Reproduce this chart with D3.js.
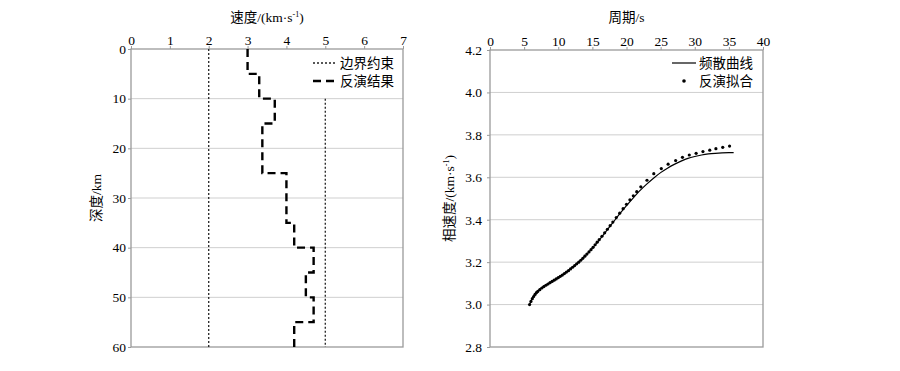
<!DOCTYPE html>
<html>
<head>
<meta charset="utf-8">
<script src="https://cdn.jsdelivr.net/npm/d3@7"></script>
<style>
  body { margin: 0; background: #fff; }
</style>
</head>
<body>
<div id="chart"></div>
<script>
// left panel: velocity model
const layerTops = [0, 5, 10, 15, 25, 35, 40, 45, 50, 55];
const layerVel = [3.0, 3.3, 3.7, 3.38, 4.0, 4.2, 4.7, 4.5, 4.7, 4.2];
const modelBottom = 60;
const lowerBound = [[2, 0], [2, 60]];
const upperBound = [[5, 10], [5, 60]];
const velTicks = [0, 1, 2, 3, 4, 5, 6, 7];
const depthTicks = [0, 10, 20, 30, 40, 50, 60];

// right panel: dispersion
const curvePeriod = [5.8, 6.2, 6.6, 7, 8, 9, 10, 11, 12, 13, 14, 15, 16, 17, 18, 19, 20, 21, 22, 23, 24, 25, 26, 27, 28, 29, 30, 31, 32, 33, 34, 35, 35.7];
const curveVel = [3.0, 3.03, 3.05, 3.064, 3.09, 3.108, 3.127, 3.149, 3.173, 3.2, 3.231, 3.266, 3.304, 3.345, 3.386, 3.427, 3.466, 3.503, 3.538, 3.569, 3.597, 3.622, 3.643, 3.661, 3.676, 3.689, 3.698, 3.705, 3.71, 3.713, 3.715, 3.716, 3.716];
const fitPeriod = [5.8, 6.0, 6.2, 6.4, 6.6, 6.8, 7.0, 7.3, 7.6, 7.9, 8.2, 8.5, 8.8, 9.1, 9.4, 9.7, 10.0, 10.3, 10.6, 10.9, 11.2, 11.5, 11.8, 12.1, 12.4, 12.7, 13.0, 13.3, 13.6, 13.9, 14.2, 14.5, 14.8, 15.1, 15.4, 15.7, 16.0, 16.4, 16.8, 17.2, 17.6, 18.0, 18.5, 19.0, 19.5, 20.0, 20.5, 21.0, 21.5, 22.1, 23.0, 24.0, 25.1, 26.1, 27.2, 28.2, 29.2, 30.2, 31.2, 32.2, 33.1, 34.1, 35.1];
const fitVel = [3.0, 3.015, 3.028, 3.038, 3.048, 3.056, 3.062, 3.07, 3.078, 3.085, 3.091, 3.097, 3.103, 3.109, 3.115, 3.121, 3.127, 3.133, 3.139, 3.146, 3.153, 3.16, 3.168, 3.176, 3.184, 3.192, 3.2, 3.209, 3.218, 3.228, 3.238, 3.248, 3.259, 3.27, 3.282, 3.294, 3.306, 3.322, 3.338, 3.355, 3.372, 3.389, 3.41, 3.431, 3.452, 3.473, 3.494, 3.513, 3.532, 3.555, 3.586, 3.617, 3.641, 3.662, 3.679, 3.694, 3.705, 3.713, 3.721, 3.728, 3.735, 3.741, 3.747];
const periodTicks = [0, 5, 10, 15, 20, 25, 30, 35, 40];
const phaseTicks = [2.8, 3.0, 3.2, 3.4, 3.6, 3.8, 4.0, 4.2];

const FONT = '"Liberation Serif", "Times New Roman", "Noto Sans CJK SC", serif';

const svg = d3.select('#chart').append('svg').attr('width', 900).attr('height', 371)
  .attr('font-family', FONT).attr('font-size', 13.5);

const frameColor = '#9a9a9a';
const gridColor = '#cfcfcf';

const addUnitTitle = (sel, prefix) => {
  sel.append('tspan').text(prefix + '/(km·s');
  sel.append('tspan').attr('font-size', 8).attr('dy', -5).text('-1');
  sel.append('tspan').attr('dy', 5).text(')');
};

const styleAxis = (g) => {
  g.attr('font-family', FONT).attr('font-size', 13.5);
  g.select('.domain').remove();
  g.selectAll('.tick line').attr('stroke', frameColor);
  g.selectAll('.tick text').attr('fill', '#000');
};

// ---------- left panel ----------
const x1 = d3.scaleLinear().domain([0, 7]).range([131, 403]);
const y1 = d3.scaleLinear().domain([0, 60]).range([49, 347]);

svg.append('g')
  .selectAll('line')
  .data(depthTicks.slice(1, -1))
  .enter()
  .append('line')
  .attr('x1', x1(0)).attr('x2', x1(7))
  .attr('y1', (d) => y1(d)).attr('y2', (d) => y1(d))
  .attr('stroke', gridColor).attr('stroke-width', 1);

svg.append('rect')
  .attr('x', x1(0)).attr('y', y1(0))
  .attr('width', x1(7) - x1(0)).attr('height', y1(60) - y1(0))
  .attr('fill', 'none').attr('stroke', frameColor).attr('stroke-width', 1.3);

svg.append('g')
  .attr('transform', `translate(0,${y1(0)})`)
  .call(d3.axisTop(x1).tickValues(velTicks).tickSize(3).tickPadding(1).tickFormat(d3.format('d')))
  .call(styleAxis);

svg.append('g')
  .attr('transform', `translate(${x1(0)},0)`)
  .call(d3.axisLeft(y1).tickValues(depthTicks).tickSize(3).tickPadding(2).tickFormat(d3.format('d')))
  .call(styleAxis);

const bLine = d3.line().x((d) => x1(d[0])).y((d) => y1(d[1]));
[lowerBound, upperBound].forEach((b) => {
  svg.append('path')
    .attr('d', bLine(b))
    .attr('fill', 'none').attr('stroke', '#222').attr('stroke-width', 1.3)
    .attr('stroke-dasharray', '2,2');
});

const model = layerTops.map((t, i) => [layerVel[i], t]);
model.push([layerVel[layerVel.length - 1], modelBottom]);

svg.append('path')
  .datum(model)
  .attr('fill', 'none').attr('stroke', '#000').attr('stroke-width', 2.4)
  .attr('stroke-dasharray', '8,5')
  .attr('d', d3.line().x((d) => x1(d[0])).y((d) => y1(d[1])).curve(d3.curveStepBefore));

svg.append('text')
  .attr('x', (x1(0) + x1(7)) / 2).attr('y', 22)
  .style('text-anchor', 'middle')
  .call(addUnitTitle, '速度');

svg.append('text')
  .attr('transform', `translate(101,${(y1(0) + y1(60)) / 2}) rotate(-90)`)
  .style('text-anchor', 'middle')
  .text('深度/km');

const legL = svg.append('g');
legL.append('line').attr('x1', 313).attr('x2', 335).attr('y1', 63).attr('y2', 63)
  .attr('stroke', '#222').attr('stroke-width', 1.3).attr('stroke-dasharray', '2,2');
legL.append('text').attr('x', 340).attr('y', 67.5).text('边界约束');
legL.append('line').attr('x1', 313).attr('x2', 335).attr('y1', 81).attr('y2', 81)
  .attr('stroke', '#000').attr('stroke-width', 2.4).attr('stroke-dasharray', '8,5');
legL.append('text').attr('x', 340).attr('y', 85.5).text('反演结果');

// ---------- right panel ----------
const x2 = d3.scaleLinear().domain([0, 40]).range([490, 763]);
const y2 = d3.scaleLinear().domain([2.8, 4.2]).range([347, 50]);

svg.append('g')
  .selectAll('line')
  .data(phaseTicks.slice(1, -1))
  .enter()
  .append('line')
  .attr('x1', x2(0)).attr('x2', x2(40))
  .attr('y1', (d) => y2(d)).attr('y2', (d) => y2(d))
  .attr('stroke', gridColor).attr('stroke-width', 1);

svg.append('rect')
  .attr('x', x2(0)).attr('y', y2(4.2))
  .attr('width', x2(40) - x2(0)).attr('height', y2(2.8) - y2(4.2))
  .attr('fill', 'none').attr('stroke', frameColor).attr('stroke-width', 1.3);

svg.append('g')
  .attr('transform', `translate(0,${y2(4.2)})`)
  .call(d3.axisTop(x2).tickValues(periodTicks).tickSize(3).tickPadding(1).tickFormat(d3.format('d')))
  .call(styleAxis);

svg.append('g')
  .attr('transform', `translate(${x2(0)},0)`)
  .call(d3.axisLeft(y2).tickValues(phaseTicks).tickSize(3).tickPadding(5).tickFormat(d3.format('.1f')))
  .call(styleAxis);

const curve = curvePeriod.map((p, i) => [p, curveVel[i]]);
svg.append('path')
  .datum(curve)
  .attr('fill', 'none').attr('stroke', '#000').attr('stroke-width', 1.2)
  .attr('d', d3.line().x((d) => x2(d[0])).y((d) => y2(d[1])).curve(d3.curveMonotoneX));

svg.append('g')
  .selectAll('circle')
  .data(fitPeriod.map((p, i) => [p, fitVel[i]]))
  .enter()
  .append('circle')
  .attr('cx', (d) => x2(d[0]))
  .attr('cy', (d) => y2(d[1]))
  .attr('r', 1.6)
  .attr('fill', '#000');

svg.append('text')
  .attr('x', (x2(0) + x2(40)) / 2).attr('y', 22)
  .style('text-anchor', 'middle')
  .text('周期/s');

svg.append('text')
  .attr('transform', `translate(454,${(y2(2.8) + y2(4.2)) / 2}) rotate(-90)`)
  .style('text-anchor', 'middle')
  .call(addUnitTitle, '相速度');

const legR = svg.append('g');
legR.append('line').attr('x1', 672).attr('x2', 696).attr('y1', 63).attr('y2', 63)
  .attr('stroke', '#000').attr('stroke-width', 1.2);
legR.append('text').attr('x', 699).attr('y', 67.5).text('频散曲线');
legR.append('circle').attr('cx', 684).attr('cy', 81).attr('r', 1.8).attr('fill', '#000');
legR.append('text').attr('x', 699).attr('y', 85.5).text('反演拟合');
</script>
</body>
</html>
